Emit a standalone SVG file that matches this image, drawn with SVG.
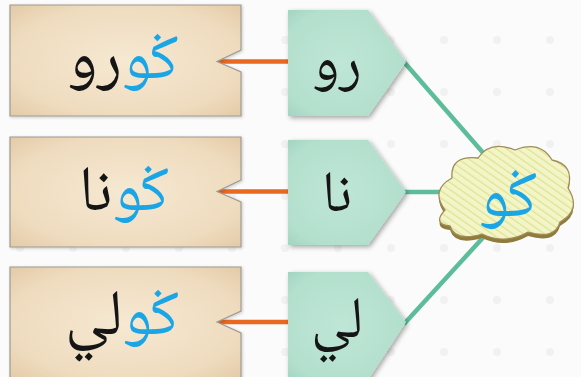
<svg xmlns="http://www.w3.org/2000/svg" width="581" height="377" viewBox="0 0 581 377">
<defs>
<style>
.ar{font-family:"Noto Naskh Arabic","Amiri","Scheherazade New","DejaVu Sans","Noto Sans",serif;text-anchor:middle;direction:rtl}
.tag{stroke:#a09a92;stroke-width:1.2}
.syl{fill:url(#gg);filter:url(#sh)}
.blue{fill:#1aa6e6}
.blk{fill:#151515}
.org{stroke:#e8691f;stroke-width:4.5;fill:none}
.grn{stroke:#5dbd9a;stroke-width:4.5;fill:none}
</style>
<radialGradient id="tg" cx="0.5" cy="0.5" r="0.7">
<stop offset="0" stop-color="#f6e8d2"/>
<stop offset="0.7" stop-color="#efdcbf"/>
<stop offset="1" stop-color="#e3cba8"/>
</radialGradient>
<radialGradient id="gg" cx="0.45" cy="0.5" r="0.7">
<stop offset="0" stop-color="#bfe6d6"/>
<stop offset="0.75" stop-color="#b3dfcd"/>
<stop offset="1" stop-color="#9fd3bf"/>
</radialGradient>
<filter id="sh" x="-20%" y="-20%" width="150%" height="150%">
<feDropShadow dx="2" dy="2" stdDeviation="2.5" flood-color="#000" flood-opacity="0.35"/>
</filter>
<filter id="sh2" x="-20%" y="-20%" width="150%" height="150%">
<feDropShadow dx="1" dy="1" stdDeviation="1.5" flood-color="#000" flood-opacity="0.2"/>
</filter>
<pattern id="hatch" width="6" height="6" patternUnits="userSpaceOnUse" patternTransform="rotate(-55)">
<rect width="6" height="6" fill="#f3f4c8"/>
<line x1="0" y1="0" x2="0" y2="6" stroke="#dde48f" stroke-width="2.5"/>
</pattern>
<pattern id="dots" width="53" height="52" patternUnits="userSpaceOnUse" x="-6" y="14">
<circle cx="26" cy="26" r="4" fill="#f1f1f1"/>
</pattern>
</defs>
<rect width="581" height="377" fill="#fbfbfb"/>
<rect width="581" height="377" fill="url(#dots)"/>

<g id="connectors">
<line class="org" x1="218" y1="61.5" x2="290" y2="61.5"/>
<line class="org" x1="218" y1="191.5" x2="290" y2="191.5"/>
<line class="org" x1="218" y1="322" x2="290" y2="322"/>
<line class="grn" x1="404" y1="62" x2="485" y2="155"/>
<line class="grn" x1="404" y1="192" x2="450" y2="192"/>
<line class="grn" x1="404" y1="324" x2="490" y2="230"/>
</g>

<g id="word1">
<polygon class="tag" fill="url(#tg)" filter="url(#sh2)" points="10,5 241,5 241,50 217,61.5 241,72 241,116 10,116"/>
<text class="ar" x="123" y="78" font-size="64"><tspan class="blue">ݢو</tspan><tspan class="blk">رو</tspan></text>
</g>
<g id="word2">
<polygon class="tag" fill="url(#tg)" filter="url(#sh2)" points="10,137 241,137 241,180 217,191.5 241,202 241,247 10,247"/>
<text class="ar" x="124" y="210" font-size="64"><tspan class="blue">ݢو</tspan><tspan class="blk">نا</tspan></text>
</g>
<g id="word3">
<polygon class="tag" fill="url(#tg)" filter="url(#sh2)" points="10,267 241,267 241,311 217,322 241,333 241,380 10,380"/>
<text class="ar" x="122" y="334" font-size="64"><tspan class="blue">ݢو</tspan><tspan class="blk">لي</tspan></text>
</g>

<g id="syl1">
<polygon class="syl" points="288,10 368,10 406,62 368,116 288,116"/>
<text class="ar blk" x="337" y="80" font-size="58">رو</text>
</g>
<g id="syl2">
<polygon class="syl" points="288,140 368,140 406,192 368,245 288,245"/>
<text class="ar blk" x="337" y="211" font-size="58">نا</text>
</g>
<g id="syl3">
<polygon class="syl" points="288,272 368,272 406,322 368,380 288,380"/>
<text class="ar blk" x="337" y="337" font-size="58">لي</text>
</g>

<g id="cloud">
<path fill="#8f7b3c" d="M445 214 Q430 194 452 182 Q450 159 478 162 Q490 144 515 154 Q540 144 552 164 Q575 169 568 192 Q582 214 560 226 Q555 244 528 236 Q505 249 482 238 Q455 246 450 230 Q432 228 445 214 Z"/>
<path fill="url(#hatch)" stroke="#a08c5a" stroke-width="1.3" d="M445 210 Q430 190 452 178 Q450 155 478 158 Q490 140 515 150 Q540 140 552 160 Q575 165 568 188 Q582 210 560 222 Q555 240 528 232 Q505 245 482 234 Q455 242 450 226 Q432 224 445 210 Z"/>
<text class="ar blue" x="508" y="216" font-size="66">ݢو</text>
</g>
</svg>
